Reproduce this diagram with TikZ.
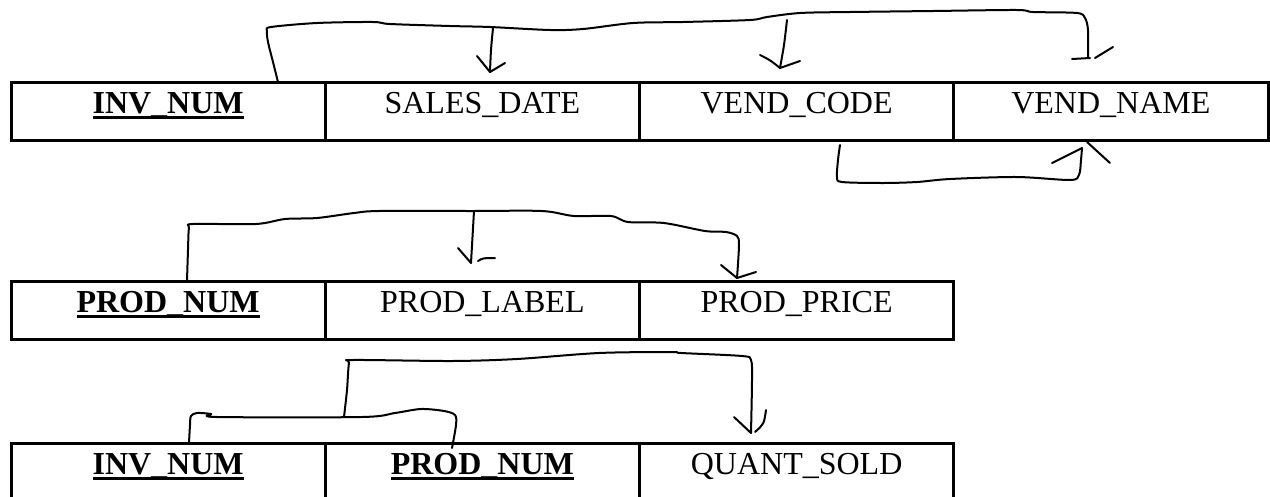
\documentclass[tikz,border=0pt]{standalone}
\usepackage{fontspec}
\setmainfont{Liberation Serif}
\usetikzlibrary{positioning}
\newsavebox{\keybox}
\newcommand{\keyfield}[1]{\sbox{\keybox}{\textbf{#1}}\rlap{\rule[-6.3pt]{\wd\keybox}{3.6pt}}\usebox{\keybox}}
\begin{document}
\begin{tikzpicture}[x=1pt,y=-1pt,
    cell/.style={draw,line width=3pt,outer sep=0pt,inner sep=0pt,minimum width=314.25pt,
        text height=31pt,text depth=27pt,font=\fontsize{32}{38}\selectfont},
    pen/.style={line width=2pt,line cap=round,line join=round}]
        \useasboundingbox (0,0) rectangle (1270,496);
        % invoice table
        \node[cell,anchor=north west] (invnum) at (11,82) {\keyfield{INV\_NUM}};
        \node[cell,right=0pt of invnum] (salesdate) {SALES\_DATE};
        \node[cell,right=0pt of salesdate] (vendcode) {VEND\_CODE};
        \node[cell,right=0pt of vendcode] (vendname) {VEND\_NAME};
        % product table
        \node[cell,anchor=north west] (prodnum) at (11,281) {\keyfield{PROD\_NUM}};
        \node[cell,right=0pt of prodnum] (prodlabel) {PROD\_LABEL};
        \node[cell,right=0pt of prodlabel] (prodprice) {PROD\_PRICE};
        % line table
        \node[cell,anchor=north west] (lineinv) at (11,443) {\keyfield{INV\_NUM}};
        \node[cell,right=0pt of lineinv] (lineprod) {\keyfield{PROD\_NUM}};
        \node[cell,right=0pt of lineprod] (quantsold) {QUANT\_SOLD};
        % dependencies of INV_NUM
        \draw[pen] plot[smooth,tension=0.5] coordinates {(278,82) (273,62) (268,42) (267,31) (271,27) (317,23) (373,22) (390,24) (450,26) (490,27) (550,30) (583,29) (633,23) (683,22) (750,20) (767,17) (800,13) (850,12) (933,11) (1017,10) (1033,12) (1077,13) (1085,18) (1088,30) (1088,57)};
        \draw[pen] (1072,59) -- (1090,58);
        \draw[pen] (1095,58) -- (1113,47);
        \draw[pen] plot[smooth,tension=0.5] coordinates {(493,28) (491,50) (490,72)};
        \draw[pen] (477,56) -- (490,72) -- (505,63);
        \draw[pen] plot[smooth,tension=0.5] coordinates {(787,20) (784,45) (780,68)};
        \draw[pen] (760,55) .. controls (770,60) .. (780,68) -- (800,61);
        % VEND_CODE to VEND_NAME
        \draw[pen] plot[smooth,tension=0.5] coordinates {(840,145) (838,160) (837,177) (842,182) (883,183) (917,182) (950,179) (1017,177) (1070,180) (1079,175) (1081,160) (1082,148)};
        \draw[pen] (1082,148) -- (1052,163);
        \draw[pen] (1087,142) -- (1110,163);
        % dependencies of PROD_NUM
        \draw[pen] plot[smooth,tension=0.5] coordinates {(187,281) (188,250) (189,228) (193,224) (256,224) (285,219) (317,218) (354,213) (379,211) (472,211) (542,211) (574,216) (611,216) (628,222) (664,223) (705,231) (726,232) (737,236) (739,245) (737,278)};
        \draw[pen] (721,265) -- (737,278) -- (756,272);
        \draw[pen] (474,211) -- (471,263);
        \draw[pen] (458,248) -- (471,263);
        \draw[pen] (478,261) .. controls (483,258) .. (495,258);
        % INV_NUM + PROD_NUM to QUANT_SOLD
        \draw[pen] plot[smooth,tension=0.5] coordinates {(189,443) (190,425) (191,416) (197,413) (211,414) (217,417) (362,417) (395,413) (421,409) (444,411) (455,415) (456,425) (452,448)};
        \draw[pen] plot[smooth,tension=0.5] coordinates {(344,417) (347,390) (349,363) (353,360) (452,361) (517,359) (599,353) (672,352) (681,353) (742,356) (751,360) (752,380) (751,433)};
        \draw[pen] (734,417) -- (751,433);
        \draw[pen] (755,432) .. controls (764,424) .. (766,410);
    \end{tikzpicture}
\end{document}
